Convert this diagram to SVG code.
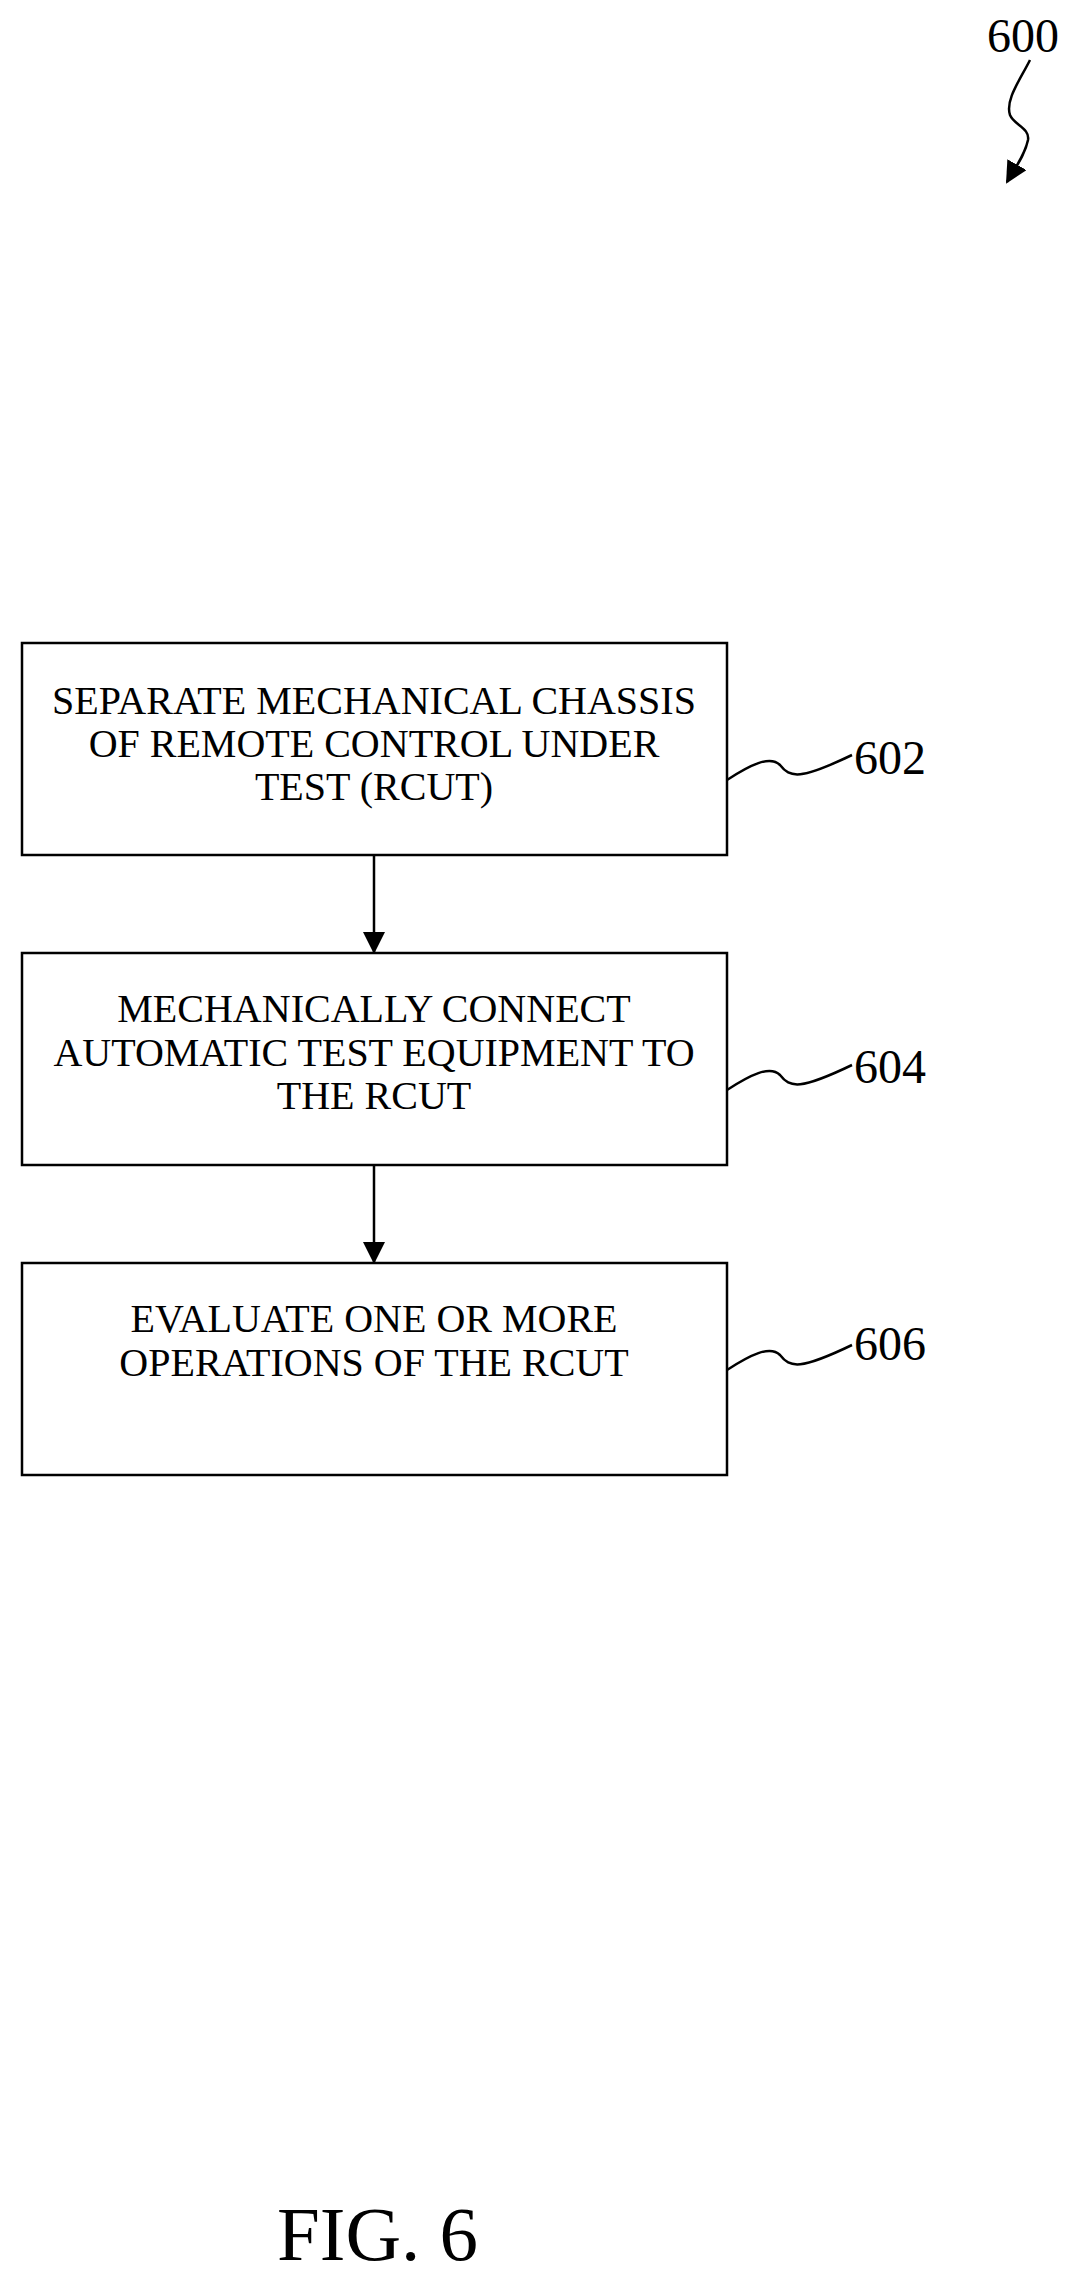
<svg xmlns="http://www.w3.org/2000/svg" width="1078" height="2288" viewBox="0 0 1078 2288">
<style>
.box{fill:#fff;stroke:#000;stroke-width:2.5}
.t{font-family:"Liberation Serif",serif;font-size:40px;text-anchor:middle;fill:#000}
.n{font-family:"Liberation Serif",serif;font-size:48px;fill:#000}
.ln{fill:none;stroke:#000;stroke-width:2.5}
</style>
<defs>
<marker id="ah2" markerWidth="22" markerHeight="22" refX="20" refY="11" orient="auto" markerUnits="userSpaceOnUse" viewBox="0 0 22 22"><path d="M0,0 L22,11 L0,22 Z" fill="#000"/></marker></defs>
<rect width="1078" height="2288" fill="#fff"/>
<g id="ref600"><text class="n" x="987" y="52">600</text>
<path class="ln" d="M1030,60 C1020,80 1005,100 1010,115 C1014,125 1030,128 1028,140 C1025,155 1015,168 1007,182" marker-end="url(#ah2)"/></g>
<g id="n602"><rect class="box" x="22" y="643" width="705" height="212"/>
<text class="t" x="374" y="714">SEPARATE MECHANICAL CHASSIS</text>
<text class="t" x="374" y="757">OF REMOTE CONTROL UNDER</text>
<text class="t" x="374" y="800">TEST (RCUT)</text>
<path class="ln" d="M727,780 C750,765 770,755 780,765 C790,778 800,780 852,755"/>
<text class="n" x="854" y="774">602</text></g>
<g id="n604"><rect class="box" x="22" y="953" width="705" height="212"/>
<text class="t" x="374" y="1022">MECHANICALLY CONNECT</text>
<text class="t" x="374" y="1066">AUTOMATIC TEST EQUIPMENT TO</text>
<text class="t" x="374" y="1109">THE RCUT</text>
<path class="ln" d="M727,1090 C750,1075 770,1065 780,1075 C790,1088 800,1090 852,1065"/>
<text class="n" x="854" y="1083">604</text></g>
<g id="n606"><rect class="box" x="22" y="1263" width="705" height="212"/>
<text class="t" x="374" y="1332">EVALUATE ONE OR MORE</text>
<text class="t" x="374" y="1376">OPERATIONS OF THE RCUT</text>
<path class="ln" d="M727,1370 C750,1355 770,1345 780,1355 C790,1368 800,1370 852,1345"/>
<text class="n" x="854" y="1360">606</text></g>
<g id="connectors">
<line class="ln" x1="374" y1="855" x2="374" y2="952" stroke-width="2" marker-end="url(#ah2)"/>
<line class="ln" x1="374" y1="1165" x2="374" y2="1262" stroke-width="2" marker-end="url(#ah2)"/>
</g>
<text x="277" y="2260" font-family="Liberation Serif,serif" font-size="77">FIG. 6</text>
</svg>
